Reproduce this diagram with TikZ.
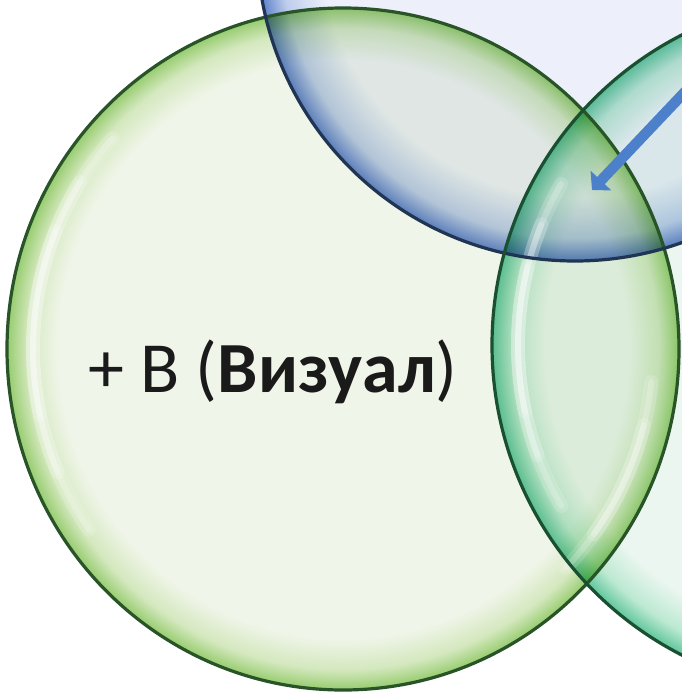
\documentclass[tikz,border=0pt]{standalone}
\usepackage{fontspec}
\setmainfont{Carlito}
\usetikzlibrary{arrows.meta}
\definecolor{gPale}{RGB}{240,245,233}
\definecolor{gMid}{RGB}{212,232,190}
\definecolor{gRim}{RGB}{150,204,110}
\definecolor{gEdge}{RGB}{40,84,40}
\definecolor{bPale}{RGB}{237,240,250}
\definecolor{bMid}{RGB}{190,205,236}
\definecolor{bRim}{RGB}{98,132,204}
\definecolor{bEdge}{RGB}{32,52,84}
\definecolor{tPale}{RGB}{234,246,239}
\definecolor{tMid}{RGB}{188,233,210}
\definecolor{tRim}{RGB}{96,198,156}
\definecolor{tEdge}{RGB}{26,80,50}
\definecolor{arrowBlue}{RGB}{76,128,202}
\definecolor{txt}{RGB}{26,26,26}
\pgfdeclareradialshading{greenbub}{\pgfpoint{0bp}{0bp}}{color(0bp)=(gPale); color(21.2bp)=(gPale); color(23.5bp)=(gMid); color(25bp)=(gRim); color(50bp)=(gRim)}
\pgfdeclareradialshading{bluebub}{\pgfpoint{0bp}{0bp}}{color(0bp)=(bPale); color(20bp)=(bPale); color(23.2bp)=(bMid); color(25bp)=(bRim); color(50bp)=(bRim)}
\pgfdeclareradialshading{tealbub}{\pgfpoint{0bp}{0bp}}{color(0bp)=(tPale); color(21.2bp)=(tPale); color(23.5bp)=(tMid); color(25bp)=(tRim); color(50bp)=(tRim)}
\tikzset{
  hlsoft/.style={draw=white, line width=14pt, line cap=round, opacity=0.16},
  hlcore/.style={draw=white, line width=6pt, line cap=round, opacity=0.22},
  rim/.style={line width=3.2pt},
  label/.style={inner sep=0pt, anchor=base west, text=txt, font=\fontsize{72}{80}\selectfont},
  pointer/.style={draw=arrowBlue, line width=10.5pt, -{Triangle[length=13pt,width=28pt]}}
}
\begin{document}
\begin{tikzpicture}[x=1pt,y=-1pt]
\useasboundingbox (0,0) rectangle (682,693);
\clip (0,0) rectangle (682,693);
\fill[white] (0,0) rectangle (682,693);
\coordinate (gc) at (343,349);
\coordinate (bc) at (575,-57);
\coordinate (tc) at (840,345);
% fills
\begin{scope}[blend mode=multiply]
\shade[shading=greenbub] (gc) ellipse [x radius=336, y radius=341];
\shade[shading=bluebub] (bc) circle [radius=318];
\shade[shading=tealbub] (tc) circle [radius=348];
\end{scope}
% glossy highlights
\foreach \a/\b in {145/222,157/212,168/202}{
  \draw[hlsoft] ([shift={(\a:310 and 315)}]gc) arc [start angle=\a, end angle=\b, x radius=310, y radius=315];
  \draw[hlcore] ([shift={(\a:310 and 315)}]gc) arc [start angle=\a, end angle=\b, x radius=310, y radius=315];
}
\foreach \a/\b in {6/44,14/36}{
  \draw[hlsoft] ([shift={(\a:310 and 315)}]gc) arc [start angle=\a, end angle=\b, x radius=310, y radius=315];
  \draw[hlcore] ([shift={(\a:310 and 315)}]gc) arc [start angle=\a, end angle=\b, x radius=310, y radius=315];
}
\foreach \a/\b in {150/210,160/202,168/194}{
  \draw[hlsoft] ([shift={(\a:322)}]tc) arc [start angle=\a, end angle=\b, radius=322];
  \draw[hlcore] ([shift={(\a:322)}]tc) arc [start angle=\a, end angle=\b, radius=322];
}
% outlines
\draw[rim, draw=gEdge] (gc) ellipse [x radius=336, y radius=341];
\draw[rim, draw=bEdge] (bc) circle [radius=318];
\draw[rim, draw=tEdge] (tc) circle [radius=348];
% text
\node[label] (vis) at (88,392) {+ B (\textbf{Визуал})};
% arrow
\coordinate (aStart) at (700,76);
\coordinate (aEnd) at (592,190);
\draw[pointer] (aStart) -- (aEnd);
\end{tikzpicture}
\end{document}
